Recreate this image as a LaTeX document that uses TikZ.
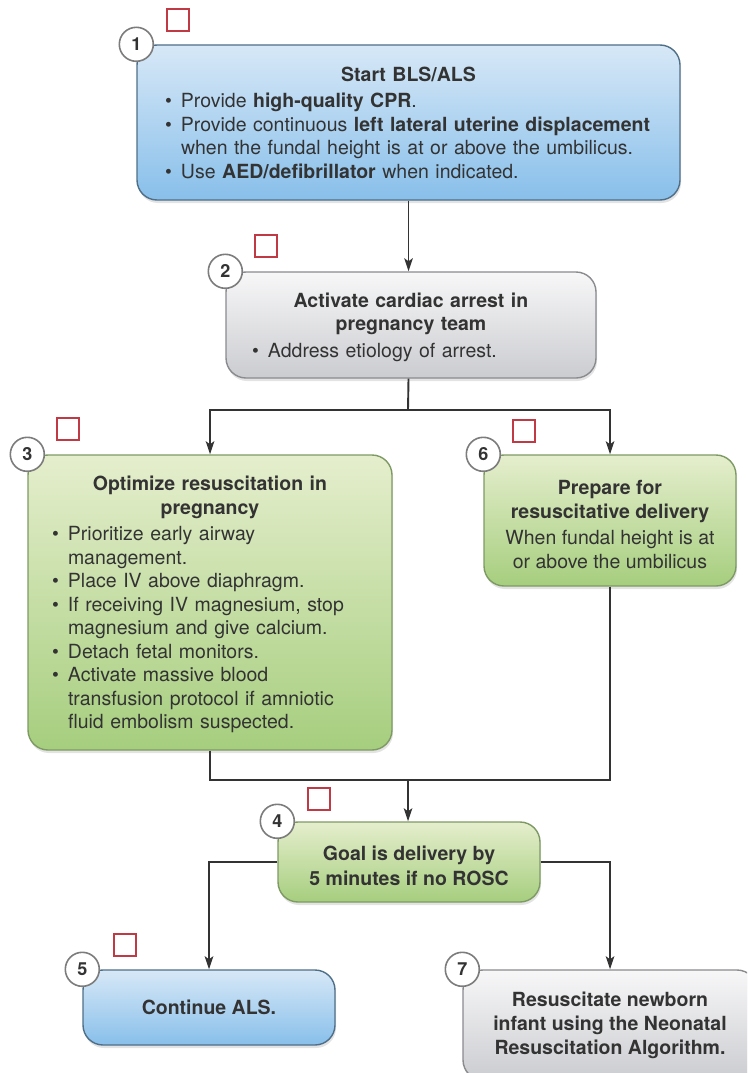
\documentclass[tikz,border=0pt]{standalone}
\usepackage{fontspec}
\setmainfont{TeX Gyre Heros}
\usetikzlibrary{arrows.meta,shadows,calc}

\definecolor{ink}{HTML}{333333}
\definecolor{blueT}{HTML}{D7E8F7}
\definecolor{blueB}{HTML}{88BFEA}
\definecolor{blueD}{HTML}{4F6F88}
\definecolor{greenT}{HTML}{E5EECD}
\definecolor{greenB}{HTML}{A6CE7E}
\definecolor{greenD}{HTML}{7E9A64}
\definecolor{grayT}{HTML}{F7F7F8}
\definecolor{grayB}{HTML}{CBCCD0}
\definecolor{grayD}{HTML}{8A8B8F}
\definecolor{numD}{HTML}{7C7C7C}
\definecolor{redD}{HTML}{C03A46}

% bullet cell, top strut and centred heading
\newcommand\bu{\makebox[16pt][l]{\textbullet}}
\newcommand\tops{\rule{0pt}{22pt}}
\newcommand\boxtitle[1]{{\centering\bfseries\tops #1\par}\vspace{3pt}}

\tikzset{
  box/.style={rounded corners=20pt, line width=1.4pt, text=ink, inner sep=0pt,
    font=\fontsize{19.5}{23.5}\selectfont,
    drop shadow={opacity=0.22, shadow xshift=1pt, shadow yshift=-3pt}},
  bluebox/.style={box, draw=blueD, top color=blueT, bottom color=blueB},
  greenbox/.style={box, draw=greenD, top color=greenT, bottom color=greenB},
  graybox/.style={box, draw=grayD, top color=grayT, bottom color=grayB},
  numc/.style={circle, draw=numD, line width=1.6pt, fill=white, minimum size=34pt,
    inner sep=0pt, text=ink, font=\fontsize{18}{18}\selectfont\bfseries},
  chk/.style={rectangle, draw=redD, line width=1.8pt, minimum size=22pt, inner sep=0pt},
  link/.style={draw=ink, line width=1.9pt},
  arr/.style={link, -{Stealth[length=13pt,width=8.5pt,inset=3pt]}},
}

\begin{document}
\begin{tikzpicture}[x=1pt,y=-1pt]
\useasboundingbox (0,0) rectangle (747,1073);
\clip (0,0) rectangle (747,1073);

% boxes
\node[bluebox, minimum width=543pt, minimum height=155pt, text width=487pt, align=left]
  (b1) at (408.5,122.5) {\boxtitle{Start BLS/ALS}%
  \noindent\begin{tabular}[t]{@{}l@{}l@{}}
  \bu & Provide \textbf{high-quality CPR}.\\
  \bu & Provide continuous \textbf{left lateral uterine displacement}\\
      & when the fundal height is at or above the umbilicus.\\
  \bu & Use \textbf{AED/defibrillator} when indicated.
  \end{tabular}};

\node[graybox, minimum width=370pt, minimum height=106pt, text width=318pt, align=left]
  (b2) at (411,325) {\boxtitle{Activate cardiac arrest in\\pregnancy team}%
  \noindent\begin{tabular}[t]{@{}l@{}l@{}}
  \bu & Address etiology of arrest.
  \end{tabular}};

\node[greenbox, minimum width=364pt, minimum height=295pt, text width=316pt, align=left]
  (b3) at (210,602.5) {\boxtitle{Optimize resuscitation in\\pregnancy}%
  \noindent\begin{tabular}[t]{@{}l@{}l@{}}
  \bu & Prioritize early airway\\
      & management.\\
  \bu & Place IV above diaphragm.\\
  \bu & If receiving IV magnesium, stop\\
      & magnesium and give calcium.\\
  \bu & Detach fetal monitors.\\
  \bu & Activate massive blood\\
      & transfusion protocol if amniotic\\
      & fluid embolism suspected.
  \end{tabular}};

\node[greenbox, minimum width=252pt, minimum height=131pt, align=center]
  (b6) at (610,520.5) {\tops\textbf{Prepare for}\\\textbf{resuscitative delivery}\\[3pt]When fundal height is at\\or above the umbilicus};

\node[greenbox, minimum width=262pt, minimum height=80pt, align=center, font=\fontsize{19.5}{24.5}\selectfont\bfseries]
  (b4) at (409,862) {\tops Goal is delivery by\\5 minutes if no ROSC};

\node[bluebox, minimum width=252pt, minimum height=75pt, align=center, font=\fontsize{19.5}{23.5}\selectfont\bfseries]
  (b5) at (209,1007.5) {Continue ALS.};

\node[graybox, minimum width=294pt, minimum height=110pt, align=center, font=\fontsize{19.5}{24}\selectfont\bfseries]
  (b7) at (610,1025) {Resuscitate newborn\\infant using the Neonatal\\Resuscitation Algorithm.};

% step numbers
\node[numc] (n1) at (b1.north west) {1};
\node[numc] (n2) at (b2.north west) {2};
\node[numc] (n3) at (b3.north west) {3};
\node[numc] (n6) at (b6.north west) {6};
\node[numc] (n4) at (b4.north west) {4};
\node[numc] (n5) at (b5.north west) {5};
\node[numc] (n7) at (b7.north west) {7};

% check boxes
\node[chk] (c1) at ($(b1.north west)+(42,-24)$) {};
\node[chk] (c2) at ($(b2.north west)+(41,-25)$) {};
\node[chk] (c3) at ($(b3.north west)+(41,-25)$) {};
\node[chk] (c6) at ($(b6.north west)+(41,-23)$) {};
\node[chk] (c4) at ($(b4.north west)+(42,-22)$) {};
\node[chk] (c5) at ($(b5.north west)+(43,-24)$) {};

% connectors
\coordinate (j1) at (408,410);
\coordinate (j2) at (408,780);
\draw[arr] (b1.south) -- (b1.south |- b2.north);
\draw[link] (b1.south |- b2.south) -- (j1);
\draw[arr] (j1) -| (b3.north);
\draw[arr] (j1) -| (b6.north);
\draw[link] (b3.south) |- (j2);
\draw[link] (b6.south) |- (j2);
\draw[arr] (j2) -- (j2 |- b4.north);
\draw[arr] (b4.west) -| (b5.north);
\draw[arr] (b4.east) -| (b7.north);
\end{tikzpicture}
\end{document}
